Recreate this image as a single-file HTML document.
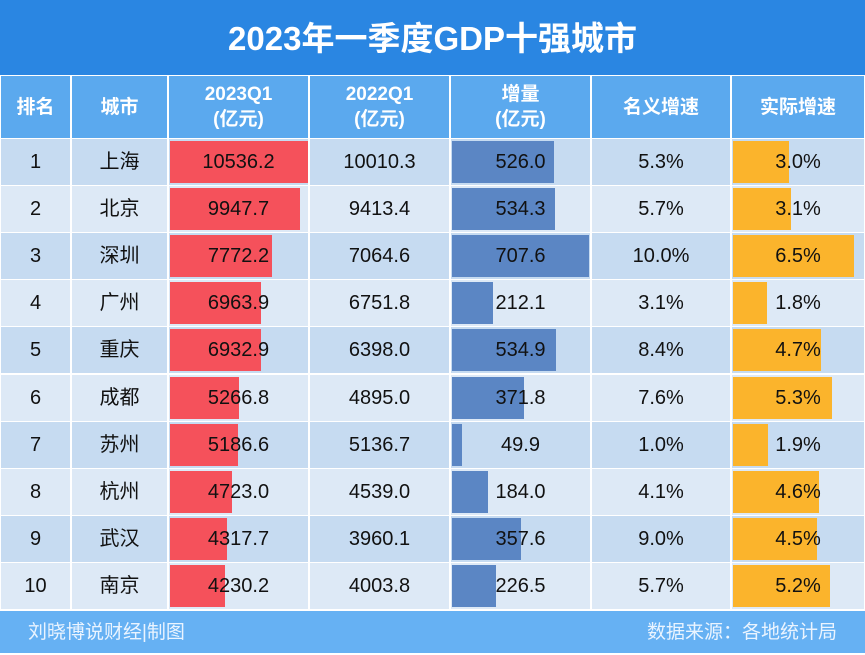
<!DOCTYPE html>
<html><head><meta charset="utf-8"><style>
body{margin:0;width:865px;height:653px;overflow:hidden;background:#fff;font-family:"Liberation Sans","Noto Sans CJK SC",sans-serif;}
#title{position:absolute;left:0;top:0;width:865px;height:75px;background:#2a86e2;color:#fff;font-weight:bold;font-size:33px;text-align:center;line-height:78px;}
#footer{position:absolute;left:0;top:611px;width:865px;height:42px;background:#66b1f3;color:#eaf4ff;font-size:19px;line-height:44px;}
.cell{position:absolute;box-sizing:border-box;display:flex;align-items:center;justify-content:center;text-align:center;font-size:20px;color:#111;}
.cell span{display:inline-block;line-height:22px;height:22px;}
.cjk{font-family:"Noto Sans CJK SC",sans-serif;}
.cjk span{line-height:22px;height:22px;position:relative;top:-2px !important;}
.hd{color:#fff;font-weight:bold;font-size:19px;line-height:25px;background:#5ba9ee;}
.bar{position:absolute;}
</style></head><body>
<div id="title">2023年一季度GDP十强城市</div>
<div id="tbl"></div>
<div id="footer"><span style="position:absolute;left:28px">刘晓博说财经|制图</span><span style="position:absolute;right:28px">数据来源：各地统计局</span></div>
<script>
const cities=["上海","北京","深圳","广州","重庆","成都","苏州","杭州","武汉","南京"];
const gdp2023=[10536.2,9947.7,7772.2,6963.9,6932.9,5266.8,5186.6,4723.0,4317.7,4230.2];
const gdp2022=[10010.3,9413.4,7064.6,6751.8,6398.0,4895.0,5136.7,4539.0,3960.1,4003.8];
const increase=[526.0,534.3,707.6,212.1,534.9,371.8,49.9,184.0,357.6,226.5];
const nominal=[5.3,5.7,10.0,3.1,8.4,7.6,1.0,4.1,9.0,5.7];
const real=[3.0,3.1,6.5,1.8,4.7,5.3,1.9,4.6,4.5,5.2];
const headers=["排名","城市","2023Q1<br>(亿元)","2022Q1<br>(亿元)","增量<br>(亿元)","名义增速","实际增速"];
const colX=[0,71,168,309,450,591,731,865];
const top0=76,hdH=63,rowH=47.1;
const t=document.getElementById('tbl');
function mk(cls,x,y,w,h,html,bg){const d=document.createElement('div');d.className=cls;d.style.left=x+'px';d.style.top=y+'px';d.style.width=w+'px';d.style.height=h+'px';if(bg)d.style.background=bg;if(html!==null)d.innerHTML=html;t.appendChild(d);return d;}
const hnames=['rank-header','city-header','gdp2023-header','gdp2022-header','increase-header','nominal-growth-header','real-growth-header'];
headers.forEach((h,i)=>{const d=mk('cell hd',colX[i]+1,top0,colX[i+1]-colX[i]-2,hdH-1,h);

});
const sx23=v=>v/10536.2*138, sxInc=v=>v/707.6*137, sxReal=v=>v/3.0*56;
cities.forEach((c,r)=>{
 const y=top0+hdH+r*rowH, h=rowH-1;
 const bg=r%2===0?'#c6dbf1':'#dde9f6';
 const bars=[null,null,['#f5515b',sx23(gdp2023[r])],null,['#5b86c4',sxInc(increase[r])],null,['#fbb42c',sxReal(real[r])]];
 const vals=[r+1,c,gdp2023[r].toFixed(1),gdp2022[r].toFixed(1),increase[r].toFixed(1),nominal[r].toFixed(1)+'%',real[r].toFixed(1)+'%'];
 for(let i=0;i<7;i++){
  const x=colX[i]+1,w=colX[i+1]-colX[i]-2;
  const cell=mk(i===1?'cell cjk':'cell',x,y,w,h,'',bg);
  
  
  if(bars[i]){const b=document.createElement('div');b.className='bar';b.style.left='1px';b.style.top='2px';b.style.height=(h-4)+'px';b.style.width=bars[i][1]+'px';b.style.background=bars[i][0];
   
   
   cell.appendChild(b);}
  const s=document.createElement('span');s.style.position='relative';s.textContent=vals[i];cell.appendChild(s);
 }
});
</script>
</body></html>
